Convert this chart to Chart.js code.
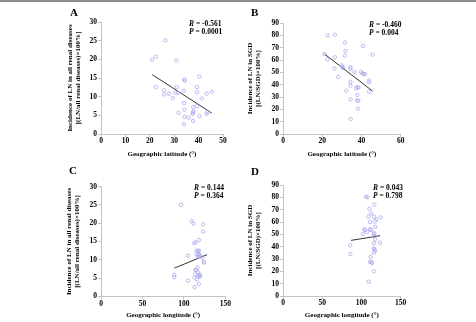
<!DOCTYPE html>
<html>
<head>
<meta charset="utf-8">
<script src="https://cdn.jsdelivr.net/npm/chart.js@4.4.1/dist/chart.umd.min.js"></script>
<style>
  body { margin: 0; background: #fff; }
  #wrap { position: relative; width: 476px; height: 322px; overflow: hidden; }
  #topline { position: absolute; left: 0; top: 0; width: 476px; height: 2px; background: #8c8c8c; }
  canvas { position: absolute; }
  .letter { position: absolute; font: bold 11px "Liberation Serif", serif; line-height: 11px; }
  .stat { position: absolute; font: bold 7.5px "Liberation Serif", serif; line-height: 8px; white-space: pre; }
</style>
</head>
<body>
<div id="wrap">
  <div id="topline"></div>
  <canvas id="chartA" width="238" height="161" style="left:0;top:0"></canvas>
  <canvas id="chartB" width="238" height="161" style="left:238px;top:0"></canvas>
  <canvas id="chartC" width="238" height="161" style="left:0;top:161px"></canvas>
  <canvas id="chartD" width="238" height="161" style="left:238px;top:161px"></canvas>

  <div class="letter" style="left:70px;top:7px">A</div>
  <div class="letter" style="left:251px;top:7px">B</div>
  <div class="letter" style="left:69px;top:165px">C</div>
  <div class="letter" style="left:251px;top:166px">D</div>

  <div class="stat" style="left:189px;top:20px"><i>R</i> = -0.561<br><i>P</i> = 0.0001</div>
  <div class="stat" style="left:369px;top:21px"><i>R</i> = -0.460<br><i>P</i> = 0.004</div>
  <div class="stat" style="left:194px;top:184px"><i>R</i> = 0.144<br><i>P</i> = 0.364</div>
  <div class="stat" style="left:373px;top:184px"><i>R</i> = 0.043<br><i>P</i> = 0.798</div>
</div>

<script>
// panel A: latitude vs incidence of LN in all renal diseases
var latA = [26.4, 20.9, 22.4, 30.9, 22.4, 25.9, 25.9, 27.9, 29.4, 30.5, 31.0, 31.4, 31.8, 34.2, 34.3, 34.0, 34.0, 34.2,
  34.2, 34.0, 36.0, 37.6, 37.8, 37.7, 37.9, 37.7, 39.4, 39.4, 39.4, 40.3, 40.3, 41.3, 43.3, 43.3, 43.6, 45.4];
var incA = [25.1, 19.9, 20.7, 19.7, 12.6, 11.7, 10.6, 10.8, 9.6, 11.1, 12.6, 11.0, 5.7, 14.6, 14.3, 11.6, 8.3, 6.5,
  4.6, 2.6, 4.4, 5.4, 7.2, 5.8, 6.0, 3.5, 12.6, 11.2, 7.5, 15.4, 4.8, 9.5, 10.8, 5.4, 5.9, 11.3];
var fitAx = [21.0, 45.4];
var fitAy = [15.9, 5.6];

// panel B: latitude vs incidence of LN in SGD
var latB = [22.8, 26.4, 31.6, 21.1, 22.6, 26.4, 31.9, 31.5, 40.8, 45.7, 26.2, 28.2, 29.8, 30.3, 30.5, 34.4, 34.4, 36.4,
  39.8, 40.4, 41.2, 41.7, 32.3, 34.4, 34.4, 34.5, 34.5, 37.2, 38.1, 38.4, 37.9, 37.8, 38.4, 38.1, 43.9, 43.9, 43.9];
var incB = [80.0, 80.5, 74.1, 64.9, 60.5, 62.2, 67.3, 63.5, 71.4, 64.3, 53.2, 46.2, 55.7, 54.6, 53.5, 54.1, 53.0, 50.3,
  50.3, 49.2, 48.6, 48.6, 35.1, 42.2, 39.2, 28.1, 12.2, 37.3, 38.1, 37.6, 31.6, 27.3, 27.0, 20.5, 43.5, 41.9, 34.3];
var fitBx = [21.1, 45.6];
var fitBy = [64.9, 34.9];

// panel C: longitude vs incidence of LN in all renal diseases
var lonC = [96.4, 109.6, 111.6, 123.3, 123.3, 112.4, 114.0, 118.1, 104.8, 115.3, 116.9, 118.5, 115.3, 118.1, 119.3,
  116.9, 118.1, 124.1, 124.1, 122.1, 88.4, 88.4, 104.8, 112.9, 115.7, 118.1, 114.9, 116.5, 112.9, 114.0, 117.7, 118.9,
  118.9, 114.0, 116.9, 119.7];
var incC = [25.0, 20.6, 19.9, 19.7, 17.7, 14.5, 14.8, 15.4, 11.1, 12.5, 12.4, 12.5, 11.5, 11.5, 11.2,
  10.9, 11.0, 9.5, 9.2, 10.6, 5.9, 5.2, 4.3, 2.5, 4.6, 3.4, 7.2, 7.9, 5.2, 6.0, 5.6, 6.0,
  5.4, 7.2, 6.5, 5.5];
var fitCx = [88.5, 128.0];
var fitCy = [7.7, 11.4];

// panel D: longitude vs incidence of LN in SGD
var lonD = [105.8, 107.5, 116.4, 110.1, 112.2, 108.8, 116.0, 124.5, 119.0, 117.3, 111.0, 103.3, 104.5, 111.0, 112.2,
  107.5, 102.0, 115.6, 116.4, 117.3, 123.7, 85.8, 85.8, 116.0, 115.6, 116.4, 117.3, 116.0, 111.8, 111.0, 112.6, 113.5,
  116.0, 109.2, 116.4, 117.7];
var incD = [80.5, 80.0, 74.1, 70.8, 67.0, 64.3, 64.3, 63.8, 62.2, 60.5, 60.0, 54.1, 53.5, 54.1, 53.5,
  52.0, 50.3, 50.3, 48.6, 46.0, 43.2, 41.1, 34.1, 42.7, 38.6, 37.8, 36.8, 35.1, 31.6, 27.6, 27.6, 26.5,
  20.0, 11.6, 51.0, 56.0];
var fitDx = [86.7, 123.7];
var fitDy = [45.1, 48.9];

var titleAll = ["Incidence of LN in all renal diseases", "[(LN/all renal diseases)\u00d7100%]"];
var titleSGD = ["Incidence of LN in SGD", "[(LN/SGD)\u00d7100%]"];
var titleLat = "Geographic latitude (\u00b0)";
var titleLon = "Geographic longitude (\u00b0)";

Chart.defaults.font.family = "'Liberation Serif', serif";
Chart.defaults.font.weight = "bold";
Chart.defaults.font.size = 7.5;
Chart.defaults.color = "#000";

function pairs(xs, ys) {
  return xs.map(function (x, i) { return { x: x, y: ys[i] }; });
}

function draw_panel(id, xs, ys, fx, fy, o) {
  var axisGray = "#c4c4c4";
  new Chart(document.getElementById(id), {
    type: "scatter",
    data: {
      datasets: [
        {
          data: pairs(xs, ys),
          pointStyle: "circle",
          pointRadius: 1.7,
          borderColor: "#aaaaee",
          backgroundColor: "rgba(0,0,0,0)",
          borderWidth: 0.8,
        },
        {
          type: "line",
          data: pairs(fx, fy),
          borderColor: "#333",
          borderWidth: 1,
          pointRadius: 0,
          fill: false,
        },
      ],
    },
    options: {
      responsive: false,
      animation: false,
      devicePixelRatio: 1,
      layout: { padding: { top: o.top, right: 238 - o.right, left: 0, bottom: 0 } },
      plugins: { legend: { display: false }, tooltip: { enabled: false } },
      scales: {
        x: {
          type: "linear",
          min: o.xmin,
          max: o.xmax,
          ticks: { stepSize: o.xstep, padding: 0 },
          grid: { drawOnChartArea: false, tickLength: 3, color: axisGray },
          border: { color: axisGray },
          title: { display: true, text: o.xtitle, padding: { top: 0, bottom: 3 }, font: { size: 7, lineHeight: 1.1 } },
          afterFit: function (s) { s.height = 161 - o.bottom; },
        },
        y: {
          min: 0,
          max: o.ymax,
          ticks: { stepSize: o.ystep, padding: 1 },
          grid: { drawOnChartArea: false, tickLength: 3, color: axisGray },
          border: { color: axisGray },
          title: { display: true, text: o.ytitle, padding: { top: o.ytpad, bottom: 0 }, font: { size: 7, lineHeight: 1.1 } },
          afterFit: function (s) { s.width = o.left; },
        },
      },
    },
  });
}

draw_panel("chartA", latA, incA, fitAx, fitAy,
  { left: 101, right: 223, top: 22, bottom: 134, xmin: 0, xmax: 50, xstep: 10, ymax: 30, ystep: 5, ytpad: 66.5, xtitle: titleLat, ytitle: titleAll });
draw_panel("chartB", latB, incB, fitBx, fitBy,
  { left: 45, right: 162.7, top: 23, bottom: 134, xmin: 0, xmax: 60, xstep: 20, ymax: 90, ystep: 10, ytpad: 8.6, xtitle: titleLat, ytitle: titleSGD });
draw_panel("chartC", lonC, incC, fitCx, fitCy,
  { left: 101, right: 225.3, top: 25.7, bottom: 135.3, xmin: 0, xmax: 150, xstep: 50, ymax: 30, ystep: 5, ytpad: 65.5, xtitle: titleLon, ytitle: titleAll });
draw_panel("chartD", lonD, incD, fitDx, fitDy,
  { left: 45, right: 162.7, top: 24, bottom: 135, xmin: 0, xmax: 150, xstep: 50, ymax: 90, ystep: 10, ytpad: 8.6, xtitle: titleLon, ytitle: titleSGD });
</script>
</body>
</html>
